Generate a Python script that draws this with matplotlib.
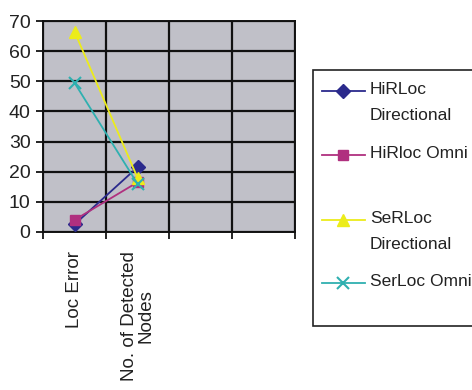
import matplotlib.pyplot as plt
from matplotlib.lines import Line2D
from matplotlib.patches import Rectangle

plt.rcParams['font.family'] = ['Liberation Sans', 'DejaVu Sans']

# Data
categories = ['Loc Error', 'No. of Detected\nNodes', '', '']
hirloc_dir = [2.5, 21.5]
hirloc_omni = [4, 16.5]
serloc_dir = [66.5, 18]
serloc_omni = [49.5, 16]
yticks = [0, 10, 20, 30, 40, 50, 60, 70]

fig = plt.figure(figsize=(4.72, 3.90), dpi=100)
ax = fig.add_axes([43 / 472, 1 - 232 / 390, (295 - 43) / 472, (232 - 21) / 390])
ax.set_facecolor('#c0c0c8')

x = [1, 2]
series = [
    (hirloc_dir, 'HiRLoc\nDirectional', dict(color='#2b2a8c', marker='D', ms=7)),
    (hirloc_omni, 'HiRloc Omni', dict(color='#b0307f', marker='s', ms=7)),
    (serloc_dir, 'SeRLoc\nDirectional', dict(color='#ecec1a', marker='^', ms=9)),
    (serloc_omni, 'SerLoc Omni', dict(color='#2fb0b0', marker='x', ms=9, mew=1.5)),
]
for vals, name, style in series:
    ax.plot(x, vals, lw=1.3, zorder=3, **style)

ax.set_xlim(0.5, 4.5)
ax.set_ylim(0, 70)
ax.set_yticks(yticks)
ax.set_xticks([0.5, 1.5, 2.5, 3.5, 4.5])
ax.set_xticklabels([])
ax.set_xticks([1, 2, 3, 4], minor=True)
ax.set_xticklabels(categories, minor=True, rotation=90, va='top',
                   ha='center', fontsize=13.5, color='#222222',
                   multialignment='center', linespacing=1.0)
ax.tick_params(axis='x', which='minor', length=0, pad=14)
ax.tick_params(axis='x', which='major', length=5, width=1.2, direction='out')
ax.tick_params(axis='y', length=5, width=1.2, labelsize=14,
               labelcolor='#222222', pad=4)
ax.grid(True, which='major', color='#111111', lw=1.6)
for s in ax.spines.values():
    s.set_color('#111111')
    s.set_linewidth(1.4)

# Legend, drawn by hand to match the spacing
fig.patches.append(Rectangle((313 / 472, 1 - 326 / 390), 0.5, 256 / 390,
                             transform=fig.transFigure, facecolor='white',
                             edgecolor='#222222', lw=1.2, zorder=0))
legend_y = [91, 155, 220, 283]
for (vals, name, style), y in zip(series, legend_y):
    fy = 1 - y / 390
    fig.add_artist(Line2D([322 / 472, 343 / 472, 365 / 472], [fy, fy, fy],
                          lw=1.3, markevery=[1],
                          transform=fig.transFigure, **style))
    fig.text(370 / 472, 1 - (y - 9) / 390, name, fontsize=12.5,
             color='#222222', va='top', ha='left', linespacing=1.95)

fig.savefig('out.png', dpi=100)
